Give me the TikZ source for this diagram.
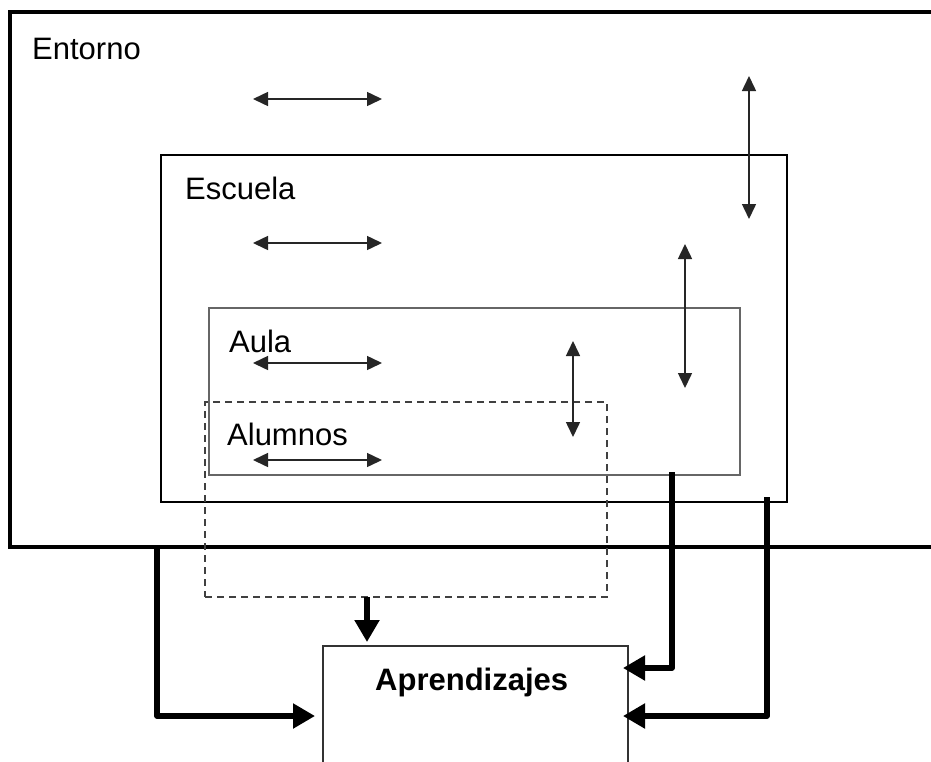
\documentclass[tikz,border=0pt]{standalone}
\usepackage{fontspec}
\setmainfont{Liberation Sans}
\usetikzlibrary{arrows.meta}
\begin{document}
\begin{tikzpicture}[x=1pt,y=-1pt,
  box/.style={draw, inner sep=0pt, anchor=north west, outer sep=0pt},
  lbl/.style={anchor=base west, inner sep=0pt, font=\fontsize{31}{37}\selectfont},
  thinarr/.style={{Triangle[length=15pt,width=14pt]}-{Triangle[length=15pt,width=14pt]}, line width=1.5pt, black!85},
  bigarr/.style={-{Triangle[length=22pt,width=24pt]}, line width=5.2pt, line join=round}]
\clip (0,0) rectangle (931,761);
\fill[white] (0,0) rectangle (931,761);
% boxes
\node[box, line width=4pt, minimum width=940pt, minimum height=535pt] (entorno) at (10,12) {};
\node[box, line width=2.6pt, minimum width=626pt, minimum height=347pt] (escuela) at (161,155) {};
\node[box, line width=1.3pt, draw=black!60, minimum width=531pt, minimum height=167pt] (aula) at (209,308) {};
\node[box, line width=1.3pt, draw=black!75, dash pattern=on 7pt off 5pt, minimum width=402pt, minimum height=195pt] (alumnos) at (205,402) {};
\node[box, line width=1.3pt, draw=black!80, minimum width=305pt, minimum height=160pt] (aprend) at (323,646) {};
% labels
\node[lbl] (tEntorno) at (32,59) {Entorno};
\node[lbl] (tEscuela) at (185,199) {Escuela};
\node[lbl] (tAula) at (229,352) {Aula};
\node[lbl] (tAlumnos) at (227,445) {Alumnos};
\node[lbl, font=\fontsize{31}{37}\selectfont\bfseries] (tAprend) at (375,690) {Aprendizajes};
% horizontal double arrows
\foreach \yy/\nm in {99/a,243/b,363/c,460/d}{
  \coordinate (h\nm1) at (253,\yy);
  \coordinate (h\nm2) at (382,\yy);
  \draw[thinarr] (h\nm1) -- (h\nm2);
}
% vertical double arrows
\coordinate (v1a) at (749,76);  \coordinate (v1b) at (749,219);
\coordinate (v2a) at (685,244); \coordinate (v2b) at (685,388);
\coordinate (v3a) at (573,341); \coordinate (v3b) at (573,437);
\draw[thinarr] (v1a) -- (v1b);
\draw[thinarr] (v2a) -- (v2b);
\draw[thinarr] (v3a) -- (v3b);
% thick connectors
\coordinate (s1) at (157,545);
\coordinate (t1) at (315,716);
\draw[bigarr] (s1) |- (t1);
\coordinate (s2) at (367,597);
\coordinate (t2) at (367,642);
\draw[bigarr] (s2) -- (t2);
\coordinate (s3) at (672,472);
\coordinate (t3) at (623,668);
\draw[bigarr] (s3) |- (t3);
\coordinate (s4) at (767,497);
\coordinate (t4) at (623,716);
\draw[bigarr] (s4) |- (t4);
\end{tikzpicture}
\end{document}
